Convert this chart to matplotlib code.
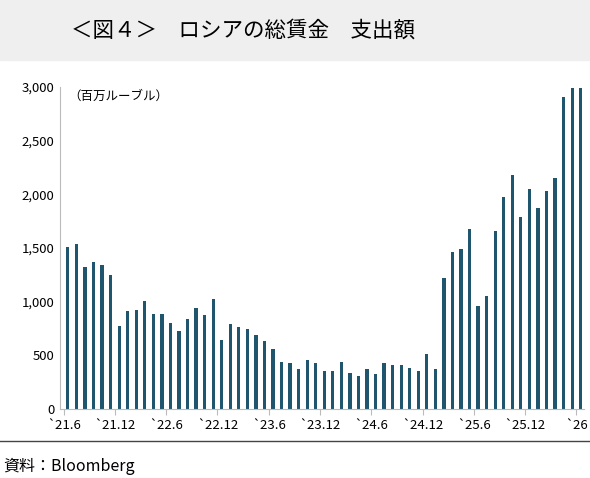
import matplotlib
matplotlib.use("Agg")
import matplotlib.pyplot as plt
from matplotlib.ticker import FuncFormatter
import numpy as np

plt.rcParams['font.family'] = ['Noto Sans CJK JP', 'DejaVu Sans']

values = [1508, 1535, 1326, 1366, 1342, 1252, 778, 911, 926, 1003, 886, 886,
          800, 732, 843, 942, 880, 1028, 640, 794, 766, 745, 692, 634,
          563, 440, 428, 375, 455, 431, 351, 351, 438, 335, 311, 370,
          329, 429, 413, 413, 382, 357, 516, 376, 1220, 1463, 1494, 1677,
          957, 1050, 1661, 1972, 2177, 1792, 2050, 1876, 2034, 2152, 2910, 2994, 2994]
tick_labels = ["`21.6", "`21.12", "`22.6", "`22.12", "`23.6", "`23.12",
               "`24.6", "`24.12", "`25.6", "`25.12", "`26"]
yticks = [0, 500, 1000, 1500, 2000, 2500, 3000]

fig = plt.figure(figsize=(5.9, 4.78), dpi=100)
# title band
fig.patches.append(plt.Rectangle((0, 0.875), 1, 0.125, transform=fig.transFigure,
                                 color='#efefef', zorder=0))
fig.text(0.12, 0.935, "＜図４＞　ロシアの総賃金　支出額", fontsize=15.5, va='center', ha='left')

ax = fig.add_axes([0.102, 0.144, 0.888, 0.674])
x = np.arange(len(values))
ax.bar(x, values, width=0.38, color='#1f566e')
ax.set_ylim(0, 3000)
ax.set_xlim(-0.9, len(values) - 0.6)
ax.set_yticks(yticks)
ax.yaxis.set_major_formatter(FuncFormatter(lambda v, p: f"{int(v):,}"))
ax.set_xticks(np.arange(0, 61, 6) - 0.5)
ax.set_xticklabels(tick_labels)
ax.tick_params(axis='x', length=4, color='#bbbbbb', labelsize=9.5, pad=3)
ax.tick_params(axis='y', length=0, labelsize=9.5, pad=4)
for s in ['top', 'right']:
    ax.spines[s].set_visible(False)
ax.spines['left'].set_color('#bbbbbb')
ax.spines['bottom'].set_color('#bbbbbb')
ax.text(0.015, 0.99, "（百万ルーブル）", transform=ax.transAxes, fontsize=9, va='top', ha='left')

fig.add_artist(plt.Line2D([0, 1], [0.077, 0.077], transform=fig.transFigure, color='#444444', lw=1))
fig.text(0.005, 0.025, "資料：Bloomberg", fontsize=11.5, va='center', ha='left')

fig.savefig("out.png", dpi=100)
